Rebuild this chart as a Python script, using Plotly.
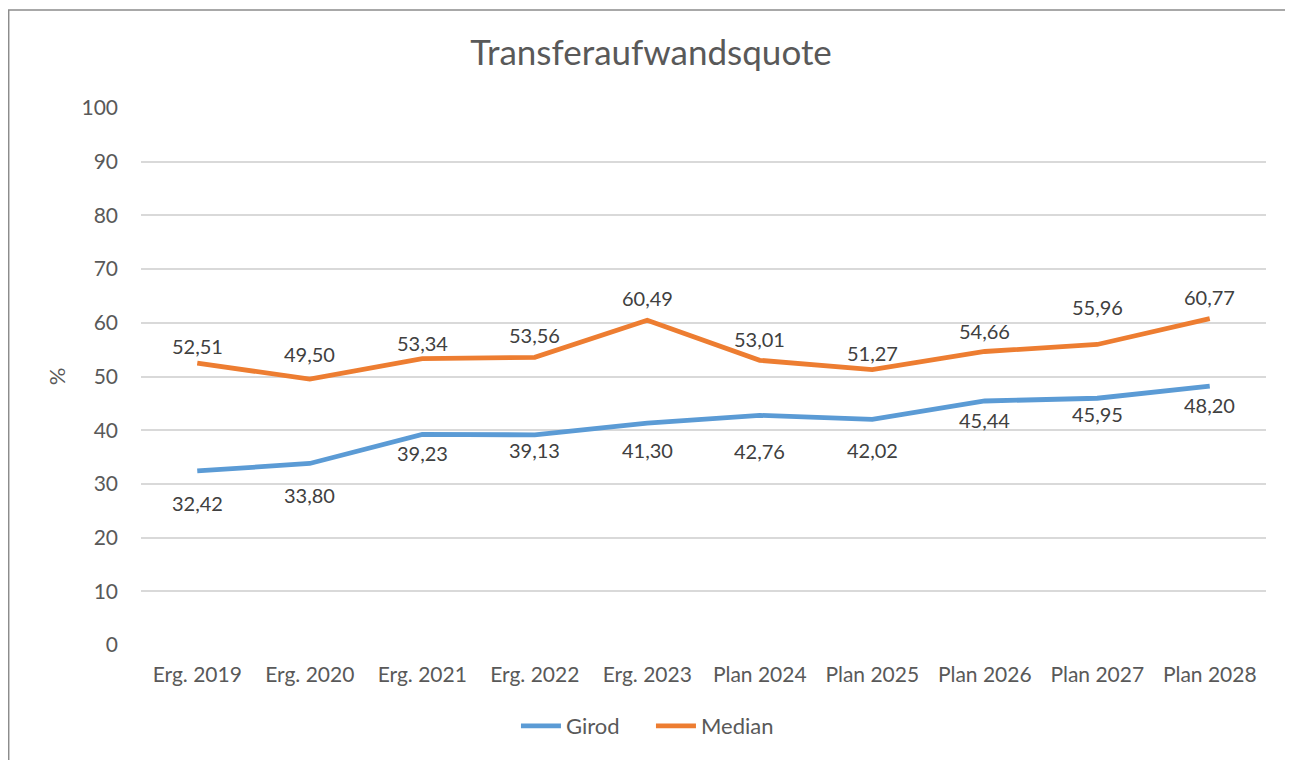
import plotly.graph_objects as go

# data
categories = [
    "Erg. 2019", "Erg. 2020", "Erg. 2021", "Erg. 2022", "Erg. 2023",
    "Plan 2024", "Plan 2025", "Plan 2026", "Plan 2027", "Plan 2028",
]
girod = [32.42, 33.80, 39.23, 39.13, 41.30, 42.76, 42.02, 45.44, 45.95, 48.20]
median = [52.51, 49.50, 53.34, 53.56, 60.49, 53.01, 51.27, 54.66, 55.96, 60.77]
y_ticks = [0, 10, 20, 30, 40, 50, 60, 70, 80, 90, 100]

# label placement (pixels away from the point), as in the original
girod_label_dy = [-32, -32, -19, -15, -27, -36, -31, -19, -16, -19]
median_label_dy = [17, 25, 16, 22, 22, 21, 17, 20, 37, 22]

FONT = "Lato, 'Open Sans', sans-serif"
BLUE = "#5b9bd5"
ORANGE = "#ed7d31"
AXIS_GRAY = "#595959"
LABEL_GRAY = "#404040"


def fmt(v):
    return f"{v:.2f}".replace(".", ",")


fig = go.Figure()
fig.add_trace(go.Scatter(
    x=categories, y=girod, name="Girod", mode="lines",
    line={"color": BLUE, "width": 4.8},
))
fig.add_trace(go.Scatter(
    x=categories, y=median, name="Median", mode="lines",
    line={"color": ORANGE, "width": 4.8},
))

for series, shifts in ((girod, girod_label_dy), (median, median_label_dy)):
    for cat, val, dy in zip(categories, series, shifts):
        fig.add_annotation(
            x=cat, y=val, text=fmt(val), showarrow=False, yshift=dy,
            font={"family": FONT, "size": 20, "color": LABEL_GRAY},
        )

# outer chart border
fig.add_shape(
    type="rect", xref="paper", yref="paper",
    x0=-0.1176, x1=1.0231, y0=-0.25, y1=1.1825,
    line={"color": "#8c8c8c", "width": 1.5}, layer="below",
)

fig.update_layout(
    width=1286,
    height=753,
    margin={"l": 133, "r": 28, "t": 100, "b": 116, "autoexpand": False},
    paper_bgcolor="white",
    plot_bgcolor="white",
    font={"family": FONT, "color": AXIS_GRAY, "size": 21},
    title={
        "text": "Transferaufwandsquote",
        "x": 0.5, "xanchor": "center", "xref": "container",
        "y": 0.9402, "yanchor": "middle",
        "font": {"size": 35, "color": AXIS_GRAY},
    },
    legend={
        "orientation": "h", "x": 0.4533, "xanchor": "center",
        "y": -0.151, "yanchor": "middle",
        "font": {"size": 22, "color": AXIS_GRAY},
        "itemwidth": 40, "entrywidth": 80,
    },
    showlegend=True,
)
fig.update_xaxes(
    range=[-0.5, 9.5], showgrid=False, showline=False, zeroline=False,
    ticks="", ticklabelstandoff=15, tickfont={"size": 21}, tickangle=0,
)
fig.update_yaxes(
    range=[0, 100], tickvals=y_ticks, showgrid=True, gridcolor="#d9d9d9",
    gridwidth=1.5, zeroline=False, showline=False, ticks="",
    ticklabelstandoff=22, tickfont={"size": 21},
    title={"text": "%", "standoff": 9, "font": {"size": 22}},
)

fig.write_html("out.html")
